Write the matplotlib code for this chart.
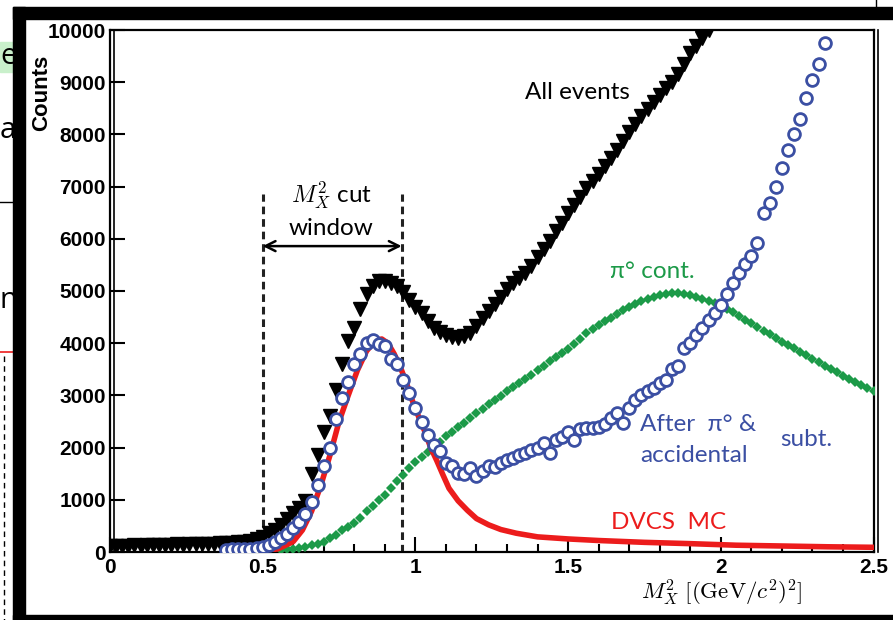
import numpy as np
import matplotlib
matplotlib.use("Agg")
import matplotlib.pyplot as plt
from matplotlib.patches import Rectangle
from matplotlib.lines import Line2D

plt.rcParams["mathtext.fontset"] = "cm"
plt.rcParams["font.family"] = ["Liberation Sans", "DejaVu Sans"]

# figure size in pixels (dpi 100)
W, H = 893, 620

# histogram bins, all series share the same bin width
BIN_WIDTH = 0.02

# All events, bins starting at 0.00
all_start = 0.0
all_events = [
    115, 110, 120, 115, 125, 120, 130, 135, 130, 140,
    140, 145, 140, 150, 150, 155, 150, 160, 165, 170,
    175, 185, 195, 215, 250, 290, 360, 420, 520, 640,
    750, 850, 980, 1500, 1850, 2300, 2600, 3100, 3600, 4050,
    4300, 4650, 4950, 5100, 5200, 5200, 5150, 5100, 4980, 4830,
    4700, 4580, 4420, 4300, 4220, 4150, 4120, 4100, 4130, 4200,
    4320, 4480, 4620, 4760, 4880, 5030, 5150, 5250, 5350, 5480,
    5650, 5800, 5950, 6150, 6300, 6500, 6650, 6800, 6980, 7100,
    7250, 7400, 7550, 7700, 7880, 8050, 8200, 8350, 8480, 8620,
    8750, 8880, 9000, 9150, 9350, 9550, 9700, 9850, 10000,
]

# After pi0 & accidental subtraction, bins starting at 0.38
subt_start = 0.38
after_subt = [
    40, 50, 50, 55, 60, 70, 90, 130, 190, 270,
    350, 460, 580, 720, 960, 1280, 1650, 2000, 2550, 2950,
    3250, 3600, 3800, 4000, 4060, 3980, 3950, 3700, 3600, 3300,
    3050, 2750, 2500, 2250, 2050, 1930, 1700, 1640, 1520, 1500,
    1600, 1450, 1560, 1650, 1620, 1700, 1760, 1800, 1850, 1900,
    1950, 2000, 2080, 1900, 2150, 2200, 2300, 2150, 2350, 2380,
    2380, 2400, 2460, 2560, 2660, 2480, 2750, 2920, 3000, 3080,
    3150, 3230, 3300, 3500, 3560, 3900, 4000, 4150, 4300, 4450,
    4580, 4730, 4950, 5150, 5350, 5520, 5680, 5920, 6500, 6680,
    7000, 7350, 7700, 8000, 8300, 8700, 9050, 9350, 9750,
]

# pi0 contamination, bins starting at 0.56
pi0_start = 0.56
pi0_cont = [
    30, 50, 60, 80, 100, 130, 160, 200, 260, 330,
    420, 480, 560, 660, 780, 880, 990, 1100, 1230, 1360,
    1480, 1600, 1720, 1820, 1910, 2000, 2110, 2220, 2300, 2390,
    2470, 2570, 2660, 2740, 2830, 2910, 2990, 3080, 3160, 3240,
    3320, 3400, 3480, 3560, 3650, 3730, 3810, 3880, 3980, 4080,
    4190, 4280, 4350, 4420, 4490, 4560, 4630, 4690, 4750, 4800,
    4850, 4890, 4920, 4950, 4960, 4960, 4940, 4920, 4890, 4850,
    4810, 4770, 4720, 4660, 4600, 4530, 4450, 4380, 4310, 4240,
    4170, 4100, 4030, 3960, 3900, 3840, 3770, 3700, 3640, 3570,
    3510, 3440, 3380, 3320, 3260, 3200, 3140, 3080,
]

# DVCS Monte Carlo curve
dvcs_x = [0.50, 0.55, 0.60, 0.63, 0.66, 0.69, 0.72, 0.75, 0.78, 0.81,
          0.84, 0.87, 0.89, 0.91, 0.93, 0.95, 0.97, 0.99, 1.01, 1.03,
          1.05, 1.07, 1.09, 1.11, 1.14, 1.17, 1.20, 1.24, 1.28, 1.33,
          1.40, 1.50, 1.60, 1.75, 1.90, 2.05, 2.20, 2.35, 2.50]
dvcs_y = [20, 60, 200, 420, 780, 1270, 1850, 2500, 3000, 3480,
          3850, 4060, 4080, 4000, 3800, 3550, 3250, 2900, 2600, 2320,
          2000, 1750, 1480, 1220, 980, 800, 640, 520, 430, 360,
          290, 250, 220, 185, 160, 130, 115, 100, 90]

cut_window = [0.5, 0.955]
cut_top = 6850
arrow_y = 5860

x_ticks = [0, 0.5, 1, 1.5, 2, 2.5]
x_tick_labels = ["0", "0.5", "1", "1.5", "2", "2.5"]
y_ticks = [0, 1000, 2000, 3000, 4000, 5000, 6000, 7000, 8000, 9000, 10000]

BLUE = "#3b4fa3"
GREEN = "#1c9a48"
RED = "#ec1c1c"
TXT = ["Lato", "DejaVu Sans"]
FS = 17.5


def fx(px):
    return px / W


def fy(py):
    return 1 - py / H


def bins(start, values):
    return start + BIN_WIDTH * np.arange(len(values))


fig = plt.figure(figsize=(W / 100, H / 100), dpi=100)
ax = fig.add_axes([fx(110), fy(552), (873.5 - 110) / W, 522 / H])

# data
ax.plot(bins(all_start, all_events), all_events, linestyle="none", marker="v",
        markersize=9.5, color="black", zorder=3)
ax.plot(bins(pi0_start, pi0_cont), pi0_cont, linestyle="none", marker="D",
        markersize=5, color=GREEN, markeredgewidth=0, zorder=4)
ax.plot(dvcs_x, dvcs_y, color=RED, lw=4, zorder=5)
ax.plot(bins(subt_start, after_subt), after_subt, linestyle="none", marker="o",
        markersize=8.5, markerfacecolor="white", markeredgecolor=BLUE,
        markeredgewidth=2, zorder=6)

# cut window
for xc in cut_window:
    ax.plot([xc, xc], [0, cut_top], color="#222222", lw=2.2,
            linestyle=(0, (2.5, 1.6)), zorder=2)
ax.annotate("", xy=(cut_window[0], arrow_y), xytext=(cut_window[1], arrow_y),
            arrowprops=dict(arrowstyle="<->", lw=1.8, color="black",
                            mutation_scale=18, shrinkA=0, shrinkB=0))
ax.text(0.725, 6840, r"$M_X^{2}$ cut", fontsize=FS, family=TXT,
        ha="center", va="center")
ax.text(0.725, 6190, "window", fontsize=FS, family=TXT,
        ha="center", va="center")

# labels on the curves
ax.text(1.532, 8800, "All events", fontsize=FS, family=TXT,
        ha="center", va="center")
ax.text(1.776, 5370, "π° cont.", fontsize=FS, family=TXT, color=GREEN,
        ha="center", va="center")
ax.text(1.736, 2450, "After  π° &", fontsize=FS, family=TXT, color=BLUE,
        ha="left", va="center")
ax.text(1.736, 1840, "accidental", fontsize=FS, family=TXT, color=BLUE,
        ha="left", va="center")
ax.text(2.195, 2150, "subt.", fontsize=FS, family=TXT, color=BLUE,
        ha="left", va="center")
ax.text(1.828, 560, "DVCS  MC", fontsize=FS, family=TXT, color=RED,
        ha="center", va="center")

# axes
ax.set_xlim(0, 2.5)
ax.set_ylim(0, 10000)
ax.set_xticks(x_ticks)
ax.set_xticklabels(x_tick_labels)
ax.set_xticks(np.arange(0, 2.51, 0.1), minor=True)
ax.set_yticks(y_ticks)
ax.set_yticklabels([str(v) for v in y_ticks])
ax.tick_params(axis="x", which="major", direction="in", length=11, width=1.5,
               labelsize=15, pad=4)
ax.tick_params(axis="x", which="minor", direction="in", length=6, width=1.5)
ax.tick_params(axis="y", which="major", direction="in", length=11, width=1.5,
               labelsize=15, pad=3)
plt.setp(ax.get_xticklabels() + ax.get_yticklabels(), fontweight="bold")
for sp in ax.spines.values():
    sp.set_linewidth(1.6)

ax.set_xlabel(r"$M_X^2\ [(\mathrm{GeV}/c^2)^2]$", fontsize=16.5)
ax.xaxis.set_label_coords((722 - 110) / 763.5, (552 - 593) / 522)
ax.xaxis.label.set_va("center")
ax.set_ylabel("Counts", fontsize=16, fontweight="bold", va="center")
ax.yaxis.set_label_coords((41.5 - 110) / 763.5, (552 - 93) / 522)

# second line of the double left and right frame
for px in (114, 877.5):
    fig.add_artist(Line2D([fx(px), fx(px)], [fy(552), fy(30)], color="black",
                          lw=1.2, transform=fig.transFigure))

# slide frame around the plot
for (x0, y0, w, h) in [(13, 7, 12, 613), (13, 7, 880, 12), (13, 615, 880, 5)]:
    fig.add_artist(Rectangle((fx(x0), fy(y0 + h)), w / W, h / H,
                             transform=fig.transFigure, color="black",
                             zorder=10))

# bits of the slide behind, left of the frame
SLIDE = ["Open Sans", "DejaVu Sans"]
fig.add_artist(Rectangle((0, fy(72)), 13 / W, 30 / H, transform=fig.transFigure,
                         color="#c9f0cb", zorder=1))
fig.text(fx(0), fy(57), "e", fontsize=21, family=SLIDE,
         va="center", ha="left", zorder=2)
fig.text(fx(0), fy(130), "a", fontsize=21, family=SLIDE,
         va="center", ha="left", zorder=2)
fig.text(fx(0), fy(300), "n", fontsize=21, family=SLIDE,
         va="center", ha="left", zorder=2)
fig.add_artist(Line2D([0, fx(13)], [fy(202), fy(202)], color="black", lw=1,
                      transform=fig.transFigure, zorder=2))
fig.add_artist(Line2D([0, fx(13)], [fy(352), fy(352)], color=RED, lw=1.2,
                      transform=fig.transFigure, zorder=2))
fig.add_artist(Line2D([fx(4), fx(4)], [fy(356), 0], color="black", lw=1,
                      linestyle=(0, (4, 3)), transform=fig.transFigure, zorder=2))
fig.add_artist(Line2D([fx(876), fx(876)], [fy(7), 1], color="black", lw=1,
                      transform=fig.transFigure, zorder=2))

fig.savefig("out.png", dpi=100)
